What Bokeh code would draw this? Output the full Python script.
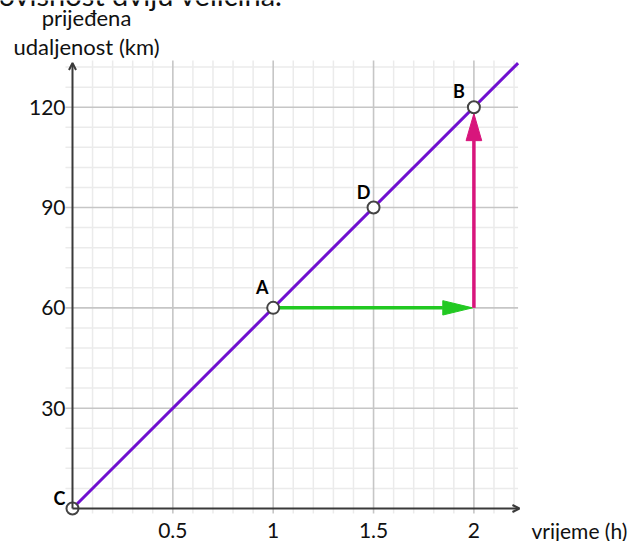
from bokeh.plotting import figure
from bokeh.models import Range1d, Arrow, OpenHead, ColumnDataSource
from bokeh.core.properties import value
from bokeh.embed import file_html
from bokeh.resources import INLINE

# ---- data ----
time_h = [0, 1, 1.5, 2]
dist_km = [0, 60, 90, 120]
point_names = ["C", "A", "D", "B"]

line_time = [0, 2.22]
line_dist = [0, 133.2]

x_major = [0.5, 1, 1.5, 2]
x_major_labels = ["0.5", "1", "1.5", "2"]
y_major = [30, 60, 90, 120]
y_major_labels = ["30", "60", "90", "120"]
x_minor = [0.1, 0.2, 0.3, 0.4, 0.6, 0.7, 0.8, 0.9, 1.1, 1.2, 1.3, 1.4,
           1.6, 1.7, 1.8, 1.9, 2.1, 2.2]
y_minor = [6, 12, 18, 24, 36, 42, 48, 54, 66, 72, 78, 84, 96, 102, 108,
           114, 126, 132]

heading = "ovisnost dviju veličina."
x_title = "vrijeme (h)"
y_title_1 = "prijeđena"
y_title_2 = "udaljenost (km)"

# arrows: green horizontal (A -> time 2), magenta vertical (time 2 -> B)
green_from = (1, 60)
green_to = (2, 60)
mag_from = (2, 60)
mag_to = (2, 120)

# ---- extents ----
X0, X1 = -0.3587, 2.8201
Y0, Y1 = -9.868, 151.91
GRID_X = (-0.035, 2.22)
GRID_Y = (-1.5, 134)
XAX_END = 2.227
YAX_END = 133.2

FONT = "Lato"
AXIS_COL = "#3a3a3a"
TXT_COL = "#111111"

p = figure(width=638, height=541, output_backend="svg", toolbar_location=None,
           x_range=Range1d(X0, X1), y_range=Range1d(Y0, Y1),
           x_axis_location=None, y_axis_location=None, min_border=0)
p.grid.visible = False
p.outline_line_color = None
p.background_fill_color = "white"

# minor grid
p.segment(x0=x_minor, y0=[GRID_Y[0]] * len(x_minor), x1=x_minor, y1=[GRID_Y[1]] * len(x_minor),
          line_color="#ebebeb", line_width=1.5)
p.segment(x0=[GRID_X[0]] * len(y_minor), y0=y_minor, x1=[GRID_X[1]] * len(y_minor), y1=y_minor,
          line_color="#ebebeb", line_width=1.5)
# major grid
p.segment(x0=x_major, y0=[GRID_Y[0]] * len(x_major), x1=x_major, y1=[GRID_Y[1]] * len(x_major),
          line_color="#c6c6c6", line_width=1.6)
p.segment(x0=[GRID_X[0]] * len(y_major), y0=y_major, x1=[GRID_X[1]] * len(y_major), y1=y_major,
          line_color="#c6c6c6", line_width=1.6)

# axes with arrow heads
p.add_layout(Arrow(x_start=0, y_start=0, x_end=XAX_END, y_end=0,
                   line_color=AXIS_COL, line_width=2,
                   end=OpenHead(size=7, line_color=AXIS_COL, line_width=2)))
p.add_layout(Arrow(x_start=0, y_start=0, x_end=0, y_end=YAX_END,
                   line_color=AXIS_COL, line_width=2,
                   end=OpenHead(size=7, line_color=AXIS_COL, line_width=2)))

# purple line
p.line(line_time, line_dist, line_color="#7010d0", line_width=3)

# green arrow
g_head_len = 0.155   # in time units
g_head_half = 2.15   # in km
p.line([green_from[0], green_to[0] - g_head_len], [green_from[1], green_to[1]],
       line_color="#22c922", line_width=3.5)
p.patch([green_to[0] - g_head_len, green_to[0] - 0.007, green_to[0] - g_head_len],
        [green_to[1] - g_head_half, green_to[1], green_to[1] + g_head_half],
        fill_color="#22c922", line_color="#22c922", line_width=1)

# magenta arrow
m_head_len = 8.1     # km
m_head_half = 0.039  # time units
m_tip = mag_to[1] - 1.9
p.line([mag_from[0], mag_to[0]], [mag_from[1], m_tip - m_head_len],
       line_color="#d8157c", line_width=3.5)
p.patch([mag_to[0] - m_head_half, mag_to[0], mag_to[0] + m_head_half],
        [m_tip - m_head_len, m_tip, m_tip - m_head_len],
        fill_color="#d8157c", line_color="#d8157c", line_width=1)

# points
src = ColumnDataSource(dict(x=time_h, y=dist_km, name=point_names,
                            dx=[-13, -11, -10, -15], dy=[-11, -21, -15.5, -16]))
p.scatter("x", "y", source=src, size=12, fill_color="white",
          line_color="#444444", line_width=2)
p.text("x", "y", text="name", source=src, x_offset="dx", y_offset="dy",
       text_font=value(FONT), text_font_style="bold", text_font_size="18px",
       text_color="black", text_align="center", text_baseline="middle")

# tick labels
p.text(x=x_major, y=[0] * len(x_major), text=x_major_labels, y_offset=22,
       text_font=value(FONT), text_font_size="21px", text_color=TXT_COL,
       text_align="center", text_baseline="middle")
p.text(x=[0] * len(y_major), y=y_major, text=y_major_labels, x_offset=-7,
       text_font=value(FONT), text_font_size="21px", text_color=TXT_COL,
       text_align="right", text_baseline="middle")

# axis titles
p.text(x=[XAX_END], y=[0], text=[x_title], x_offset=12, y_offset=22,
       text_font=value(FONT), text_font_size="21px", text_color=TXT_COL,
       text_align="left", text_baseline="middle")
p.text(x=[0, 0], y=[YAX_END, YAX_END], text=[y_title_1, y_title_2],
       x_offset=14, y_offset=[-46, -17],
       text_font=value(FONT), text_font_size="22px", text_color=TXT_COL,
       text_align="center", text_baseline="alphabetic")

# heading (cut off at the top edge, as in the source image)
p.text(x=[X0], y=[Y1], text=[heading], x_offset=-2, y_offset=-6,
       text_font=value(FONT), text_font_size="29px", text_color=TXT_COL,
       text_align="left", text_baseline="alphabetic")

open("out.html", "w").write(file_html(p, INLINE))
